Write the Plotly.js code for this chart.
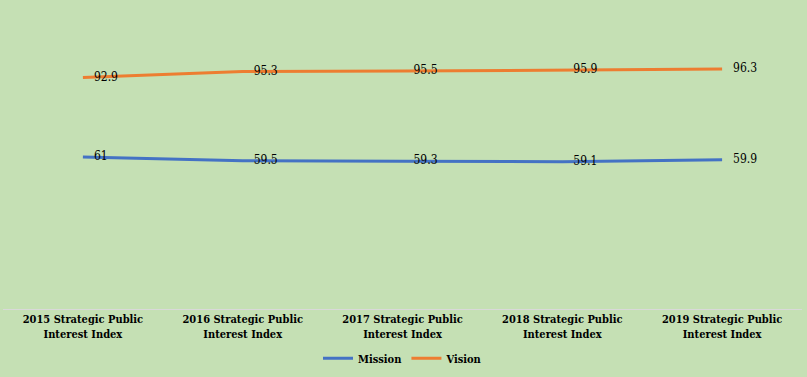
<!DOCTYPE html>
<html>
<head>
<meta charset="utf-8">
<script src="https://cdn.plot.ly/plotly-3.0.1.min.js"></script>
<style>html,body{margin:0;padding:0;background:#C5E0B4;}#chart{width:807px;height:377px;}</style>
</head>
<body>
<div id="chart"></div>
<script>
const categories = [
  "2015 Strategic Public Interest Index",
  "2016 Strategic Public Interest Index",
  "2017 Strategic Public Interest Index",
  "2018 Strategic Public Interest Index",
  "2019 Strategic Public Interest Index"
];
const tickLabels = [
  "2015 Strategic Public<br>Interest Index",
  "2016 Strategic Public<br>Interest Index",
  "2017 Strategic Public<br>Interest Index",
  "2018 Strategic Public<br>Interest Index",
  "2019 Strategic Public<br>Interest Index"
];
const mission = [61, 59.5, 59.3, 59.1, 59.9];
const vision = [92.9, 95.3, 95.5, 95.9, 96.3];

const serif = "'DejaVu Serif Condensed', 'DejaVu Serif', serif";
const labelFont = {family: serif, size: 12, color: '#000'};

const traces = [
  {x: categories, y: mission, name: 'Mission', type: 'scatter', mode: 'lines+markers+text',
   line: {color: '#4472C4', width: 3}, marker: {size: 16, color: 'rgba(0,0,0,0)'},
   text: mission.map(String),
   textposition: 'middle right', textfont: labelFont, cliponaxis: false, hoverinfo: 'skip'},
  {x: categories, y: vision, name: 'Vision', type: 'scatter', mode: 'lines+markers+text',
   line: {color: '#ED7D31', width: 3}, marker: {size: 16, color: 'rgba(0,0,0,0)'},
   text: vision.map(String),
   textposition: 'middle right', textfont: labelFont, cliponaxis: false, hoverinfo: 'skip'}
];

const layout = {
  width: 807, height: 377,
  paper_bgcolor: '#C5E0B4', plot_bgcolor: '#C5E0B4',
  margin: {l: 3, r: 5, t: 10, b: 68},
  showlegend: true,
  legend: {orientation: 'h', x: 0.5, xanchor: 'center', y: -0.165, yanchor: 'middle',
    font: {family: serif, size: 11, color: '#000', weight: 'bold'}, bgcolor: 'rgba(0,0,0,0)',
    itemwidth: 30},
  xaxis: {type: 'category', tickvals: categories, ticktext: tickLabels, range: [-0.5, 4.5],
    showgrid: false, zeroline: false, showline: true, linecolor: '#D9D9D9', linewidth: 1,
    ticks: '', tickfont: {family: serif, size: 11, color: '#000', weight: 'bold'}, fixedrange: true},
  yaxis: {range: [0, 120], visible: false, showgrid: false, zeroline: false, fixedrange: true},
  font: {family: serif}
};

Plotly.newPlot('chart', traces, layout, {displayModeBar: false, staticPlot: true});
</script>
</body>
</html>
